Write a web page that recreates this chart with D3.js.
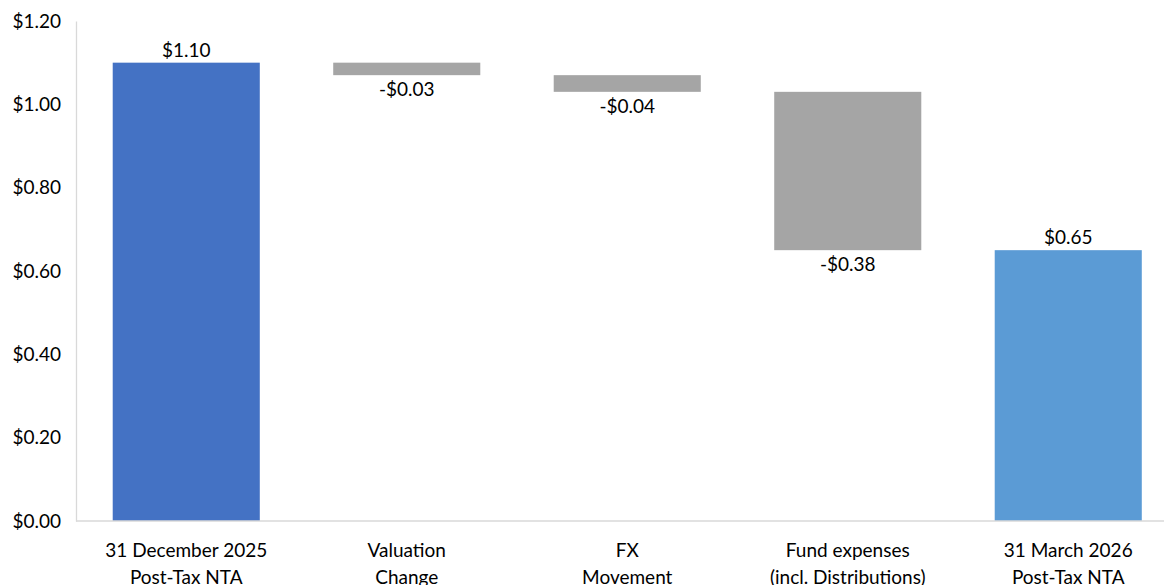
<!DOCTYPE html>
<html>
<head>
<meta charset="utf-8">
<script src="https://cdn.jsdelivr.net/npm/d3@7"></script>
<style>
  body { margin: 0; background: #fff; }
  svg text { font-family: Lato, "Open Sans", sans-serif; fill: #000; }
</style>
</head>
<body>
<div class="chart-container"></div>
<script>
// chart data
const categories = [
  ["31 December 2025", "Post-Tax NTA"],
  ["Valuation", "Change"],
  ["FX", "Movement"],
  ["Fund expenses", "(incl. Distributions)"],
  ["31 March 2026", "Post-Tax NTA"]
];
const changes = [1.10, -0.03, -0.04, -0.38, 0.65];
const kinds = ["total", "delta", "delta", "delta", "end"];
const yTicks = [0, 0.2, 0.4, 0.6, 0.8, 1.0, 1.2];

const W = 1164, H = 585;
const margin = {top: 21, left: 76, bottom: 64};

const colors = { total: "#4472C4", delta: "#A5A5A5", end: "#5B9BD5" };

// build waterfall start/end values
let running = 0;
const rows = changes.map((v, i) => {
  let lo, hi;
  if (kinds[i] === "delta") {
    hi = running; lo = running + v; running = lo;
  } else {
    lo = 0; hi = v; running = v;
  }
  return { i, v, lo, hi, kind: kinds[i] };
});

const svg = d3.select(".chart-container").append("svg")
  .attr("width", W).attr("height", H);

const x = d3.scaleBand()
  .domain(d3.range(categories.length))
  .range([margin.left, margin.left + 5 * 220.5])
  .paddingInner(0.333).paddingOuter(0.1665);

const y = d3.scaleLinear()
  .domain([0, 1.2])
  .range([H - margin.bottom, margin.top]);

// y axis
const yAxis = svg.append("g")
  .attr("transform", "translate(" + margin.left + ",0)")
  .call(d3.axisLeft(y).tickValues(yTicks).tickSize(0).tickPadding(15)
    .tickFormat(d => "$" + d3.format(".2f")(d)));
yAxis.select(".domain").attr("stroke", "#D9D9D9").attr("stroke-width", 1.3);
yAxis.selectAll("text").style("font-size", "19px");

// bars
svg.append("g").selectAll("rect")
  .data(rows)
  .enter().append("rect")
  .attr("x", d => x(d.i))
  .attr("width", x.bandwidth())
  .attr("y", d => y(d.hi))
  .attr("height", d => y(d.lo) - y(d.hi))
  .attr("fill", d => colors[d.kind]);

// x axis line
svg.append("line")
  .attr("x1", margin.left).attr("x2", W)
  .attr("y1", y(0)).attr("y2", y(0))
  .attr("stroke", "#D9D9D9").attr("stroke-width", 1.3);

// category labels (second line is clipped by the bottom edge, as in the original)
const cat = svg.append("g").selectAll("text")
  .data(categories)
  .enter().append("text")
  .attr("text-anchor", "middle")
  .style("font-size", "19px")
  .attr("x", (d, i) => x(i) + x.bandwidth() / 2)
  .attr("y", y(0) + 36);
cat.selectAll("tspan")
  .data(d => d)
  .enter().append("tspan")
  .attr("x", function() { return d3.select(this.parentNode).attr("x"); })
  .attr("dy", (d, j) => j === 0 ? 0 : 27)
  .text(d => d);

// value labels
svg.append("g").selectAll("text")
  .data(rows)
  .enter().append("text")
  .attr("text-anchor", "middle")
  .style("font-size", "19px")
  .attr("x", d => x(d.i) + x.bandwidth() / 2)
  .attr("y", d => d.kind === "delta" ? y(d.lo) + 21 : y(d.hi) - 6)
  .text(d => (d.v < 0 ? "-$" : "$") + d3.format(".2f")(Math.abs(d.v)));
</script>
</body>
</html>
